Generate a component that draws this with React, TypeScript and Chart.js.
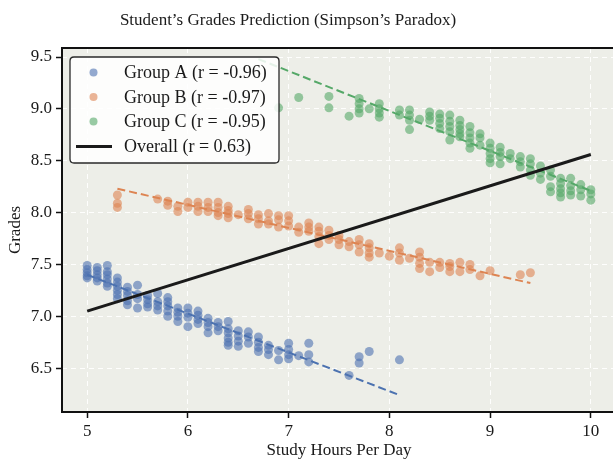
import React, { useEffect, useRef } from "react";
import { Chart, registerables } from "chart.js";

Chart.register(...registerables);

// ---------- data ----------
const chartTitle = "Student\u2019s Grades Prediction (Simpson\u2019s Paradox)";
const xAxisLabel = "Study Hours Per Day";
const yAxisLabel = "Grades";

const xTicks = [5, 6, 7, 8, 9, 10];
const yTicks = [6.5, 7.0, 7.5, 8.0, 8.5, 9.0, 9.5];

const seriesLabels = [
  "Group A (r = -0.96)",
  "Group B (r = -0.97)",
  "Group C (r = -0.95)",
  "Overall (r = 0.63)",
];

const groupAHours = [5.0, 5.1, 5.2, 5.3, 5.4, 5.5, 5.6, 5.7, 5.8, 5.9, 6.0, 6.1, 6.2, 6.3, 6.4, 6.5, 6.6, 6.7, 6.8, 6.9, 7.0, 7.1, 7.2, 7.6, 7.7, 7.8, 8.1];
const groupAGrades = [
  [7.49, 7.45, 7.42, 7.39, 7.37],
  [7.47, 7.44, 7.40, 7.37, 7.34],
  [7.49, 7.43, 7.40, 7.36, 7.32, 7.29],
  [7.37, 7.33, 7.29, 7.25, 7.21, 7.17],
  [7.28, 7.24, 7.20, 7.15, 7.11],
  [7.30, 7.21, 7.17, 7.08],
  [7.20, 7.16, 7.12, 7.09],
  [7.22, 7.14, 7.10, 7.06],
  [7.18, 7.14, 7.10, 7.05, 7.00],
  [7.08, 7.04, 7.00, 6.95],
  [7.08, 7.03, 6.99, 6.90],
  [7.05, 7.01, 6.97, 6.93],
  [6.98, 6.94, 6.90, 6.84],
  [6.94, 6.90, 6.86],
  [6.95, 6.88, 6.84, 6.79, 6.75, 6.72],
  [6.86, 6.81, 6.76, 6.71],
  [6.85, 6.80, 6.74],
  [6.80, 6.75, 6.70, 6.66],
  [6.72, 6.68, 6.63],
  [6.67, 6.58],
  [6.74, 6.68, 6.63, 6.59],
  [6.62],
  [6.74, 6.63, 6.56],
  [6.43],
  [6.61, 6.55],
  [6.66],
  [6.58],
];

const groupBHours = [5.3, 5.7, 5.8, 5.9, 6.0, 6.1, 6.2, 6.3, 6.4, 6.5, 6.6, 6.7, 6.8, 6.9, 7.0, 7.1, 7.2, 7.3, 7.4, 7.5, 7.6, 7.7, 7.8, 7.9, 8.0, 8.1, 8.2, 8.3, 8.4, 8.5, 8.6, 8.7, 8.8, 8.9, 9.0, 9.3, 9.4];
const groupBGrades = [
  [8.17, 8.09, 8.05],
  [8.13],
  [8.11, 8.07],
  [8.06, 8.01],
  [8.10, 8.05],
  [8.10, 8.06, 8.01],
  [8.10, 8.05, 8.01],
  [8.10, 8.05, 8.00, 7.97],
  [8.06, 8.02, 7.99, 7.95],
  [7.98],
  [8.03, 7.99, 7.94],
  [7.98, 7.94, 7.89],
  [7.99, 7.92, 7.89],
  [7.97, 7.93, 7.86],
  [7.97, 7.92, 7.87],
  [7.86, 7.81],
  [7.90, 7.86, 7.82],
  [7.86, 7.82, 7.77, 7.70],
  [7.83, 7.78, 7.74],
  [7.78, 7.74, 7.69],
  [7.72, 7.67],
  [7.74, 7.69, 7.62],
  [7.70, 7.66, 7.61, 7.57],
  [7.61],
  [7.58],
  [7.66, 7.61, 7.54],
  [7.56],
  [7.62, 7.57, 7.51, 7.46],
  [7.52, 7.43],
  [7.52, 7.47],
  [7.51, 7.48, 7.43],
  [7.52, 7.43],
  [7.50, 7.45],
  [7.39],
  [7.44],
  [7.40],
  [7.42],
];

const groupCHours = [6.9, 7.1, 7.4, 7.6, 7.7, 7.8, 7.9, 8.1, 8.2, 8.3, 8.4, 8.5, 8.6, 8.7, 8.8, 8.9, 9.0, 9.1, 9.2, 9.3, 9.4, 9.5, 9.6, 9.7, 9.8, 9.9, 10.0];
const groupCGrades = [
  [9.01],
  [9.11],
  [9.12, 9.01],
  [8.93],
  [9.10, 9.05, 9.00, 8.96],
  [9.00],
  [9.05, 9.00, 8.96, 8.92],
  [8.99, 8.94],
  [8.99, 8.94, 8.89, 8.80],
  [8.90],
  [8.97, 8.93, 8.89],
  [8.95, 8.91, 8.86, 8.81],
  [8.94, 8.88, 8.83, 8.78, 8.70],
  [8.89, 8.84, 8.80, 8.76, 8.73],
  [8.83, 8.77, 8.72, 8.67, 8.62],
  [8.76, 8.72, 8.65],
  [8.67, 8.62, 8.57, 8.52, 8.48],
  [8.63, 8.58, 8.54, 8.47],
  [8.57, 8.52],
  [8.54, 8.49, 8.44],
  [8.52, 8.47, 8.41, 8.36],
  [8.45, 8.38, 8.32],
  [8.41, 8.35, 8.25, 8.20],
  [8.33, 8.28, 8.23, 8.19, 8.15],
  [8.33, 8.26, 8.21, 8.17],
  [8.27, 8.22, 8.16],
  [8.22, 8.18, 8.12],
];

// fitted lines (end points)
const fitAHours = [5.0, 8.1];
const fitAGrades = [7.40, 6.24];
const fitBHours = [5.3, 9.4];
const fitBGrades = [8.23, 7.32];
const fitCHours = [6.7, 10.0];
const fitCGrades = [9.48, 8.21];
const overallHours = [5.0, 10.0];
const overallGrades = [7.05, 8.56];

// ---------- styles ----------
const FONT = "'Liberation Serif', 'Times New Roman', serif";
const colA = "76,114,176";
const colB = "221,132,82";
const colC = "85,168,104";
const plotBg = "#EDEEE8";
const textColor = "#1a1a1a";

const toPoints = (hours: number[], grades: number[][]) =>
  hours.flatMap((h, i) => grades[i].map((g) => ({ x: h, y: g })));
const toLine = (hours: number[], grades: number[]) =>
  hours.map((h, i) => ({ x: h, y: grades[i] }));

const decorPlugin = {
  id: "decor",
  beforeDraw(chart: any) {
    const { ctx, chartArea: a } = chart;
    ctx.save();
    ctx.fillStyle = "#ffffff";
    ctx.fillRect(0, 0, chart.width, chart.height);
    ctx.fillStyle = plotBg;
    ctx.fillRect(a.left, a.top, a.right - a.left, a.bottom - a.top);
    ctx.restore();
  },
  afterDraw(chart: any) {
    const { ctx, chartArea: a } = chart;
    ctx.save();
    // frame
    ctx.strokeStyle = "#111";
    ctx.lineWidth = 2;
    ctx.strokeRect(a.left, a.top, a.right - a.left, a.bottom - a.top);

    // title
    ctx.fillStyle = textColor;
    ctx.font = `17px ${FONT}`;
    ctx.textAlign = "center";
    ctx.textBaseline = "middle";
    ctx.fillText(chartTitle, 288, 21);

    // legend
    const lx = 70, ly = 57, lw = 209, lh = 106, r = 4;
    ctx.beginPath();
    ctx.moveTo(lx + r, ly);
    ctx.lineTo(lx + lw - r, ly);
    ctx.quadraticCurveTo(lx + lw, ly, lx + lw, ly + r);
    ctx.lineTo(lx + lw, ly + lh - r);
    ctx.quadraticCurveTo(lx + lw, ly + lh, lx + lw - r, ly + lh);
    ctx.lineTo(lx + r, ly + lh);
    ctx.quadraticCurveTo(lx, ly + lh, lx, ly + lh - r);
    ctx.lineTo(lx, ly + r);
    ctx.quadraticCurveTo(lx, ly, lx + r, ly);
    ctx.closePath();
    ctx.fillStyle = "rgba(255,255,255,0.85)";
    ctx.fill();
    ctx.strokeStyle = "#2a2a2a";
    ctx.lineWidth = 1.3;
    ctx.stroke();

    const rows = [72.5, 97, 121.5, 146.5];
    const markerCols = [colA, colB, colC];
    ctx.font = `18px ${FONT}`;
    ctx.textAlign = "left";
    ctx.textBaseline = "middle";
    rows.forEach((yy, i) => {
      if (i < 3) {
        ctx.beginPath();
        ctx.arc(93.5, yy, 4, 0, Math.PI * 2);
        ctx.fillStyle = `rgba(${markerCols[i]},0.6)`;
        ctx.fill();
      } else {
        ctx.beginPath();
        ctx.moveTo(76, yy);
        ctx.lineTo(112, yy);
        ctx.strokeStyle = "#1a1a1a";
        ctx.lineWidth = 3;
        ctx.stroke();
      }
      ctx.fillStyle = textColor;
      ctx.fillText(seriesLabels[i], 124, yy + 1);
    });
    ctx.restore();
  },
};

export default function App() {
  const ref = useRef<HTMLCanvasElement | null>(null);

  useEffect(() => {
    if (!ref.current) return;
    const scatterStyle = (c: string) => ({
      pointRadius: 4.5,
      pointHoverRadius: 4.5,
      pointBackgroundColor: `rgba(${c},0.6)`,
      pointBorderWidth: 0,
      borderWidth: 0,
      showLine: false,
      order: 2,
    });
    const fitStyle = (c: string) => ({
      showLine: true,
      pointRadius: 0,
      borderColor: `rgb(${c})`,
      borderWidth: 2,
      borderDash: [8, 4],
      order: 1,
    });

    const chart = new Chart(ref.current, {
      type: "scatter",
      data: {
        datasets: [
          { label: seriesLabels[0], data: toPoints(groupAHours, groupAGrades), ...scatterStyle(colA) },
          { label: seriesLabels[1], data: toPoints(groupBHours, groupBGrades), ...scatterStyle(colB) },
          { label: seriesLabels[2], data: toPoints(groupCHours, groupCGrades), ...scatterStyle(colC) },
          { label: "fitA", data: toLine(fitAHours, fitAGrades), ...fitStyle(colA) },
          { label: "fitB", data: toLine(fitBHours, fitBGrades), ...fitStyle(colB) },
          { label: "fitC", data: toLine(fitCHours, fitCGrades), ...fitStyle(colC) },
          {
            label: seriesLabels[3],
            data: toLine(overallHours, overallGrades),
            showLine: true,
            pointRadius: 0,
            borderColor: "#1a1a1a",
            borderWidth: 3,
            order: 0,
          },
        ] as any,
      },
      options: {
        responsive: false,
        animation: false,
        devicePixelRatio: 1,
        layout: { padding: { top: 48, right: 24, left: 0, bottom: 0 } },
        plugins: {
          legend: { display: false },
          tooltip: { enabled: false },
          title: { display: false },
        },
        scales: {
          x: {
            type: "linear",
            min: 4.75,
            max: 10.25,
            afterBuildTicks: (s: any) => {
              s.ticks = xTicks.map((v) => ({ value: v }));
            },
            afterFit: (s: any) => {
              s.height = 47;
            },
            ticks: {
              callback: (v: any) => String(v),
              font: { family: FONT, size: 17 },
              color: textColor,
              padding: 3,
              maxRotation: 0,
            },
            grid: {
              color: "rgba(255,255,255,0.9)",
              lineWidth: 1,
              tickColor: "#111",
              tickLength: 6,
              tickWidth: 1.5,
              tickBorderDash: [],
            },
            border: { display: false, dash: [5, 4] },
            title: {
              display: true,
              text: xAxisLabel,
              font: { family: FONT, size: 17, lineHeight: 1 },
              color: textColor,
              padding: { top: 0, bottom: 0 },
            },
          },
          y: {
            type: "linear",
            min: 6.077,
            max: 9.587,
            afterBuildTicks: (s: any) => {
              s.ticks = yTicks.map((v) => ({ value: v }));
            },
            afterFit: (s: any) => {
              s.width = 62;
            },
            ticks: {
              callback: (v: any) => Number(v).toFixed(1),
              font: { family: FONT, size: 17 },
              color: textColor,
              padding: 4,
            },
            grid: {
              color: "rgba(255,255,255,0.9)",
              lineWidth: 1,
              tickColor: "#111",
              tickLength: 6,
              tickWidth: 1.5,
              tickBorderDash: [],
            },
            border: { display: false, dash: [5, 4] },
            title: {
              display: true,
              text: yAxisLabel,
              font: { family: FONT, size: 17, lineHeight: 1.2 },
              color: textColor,
              padding: { top: 5, bottom: 0 },
            },
          },
        },
      } as any,
      plugins: [decorPlugin],
    });
    return () => chart.destroy();
  }, []);

  return (
    <div
      style={{
        position: "absolute",
        left: 0,
        top: 0,
        width: 613,
        height: 459,
        overflow: "hidden",
        background: "#fff",
      }}
    >
      <canvas ref={ref} width={640} height={459} style={{ display: "block" }} />
    </div>
  );
}
